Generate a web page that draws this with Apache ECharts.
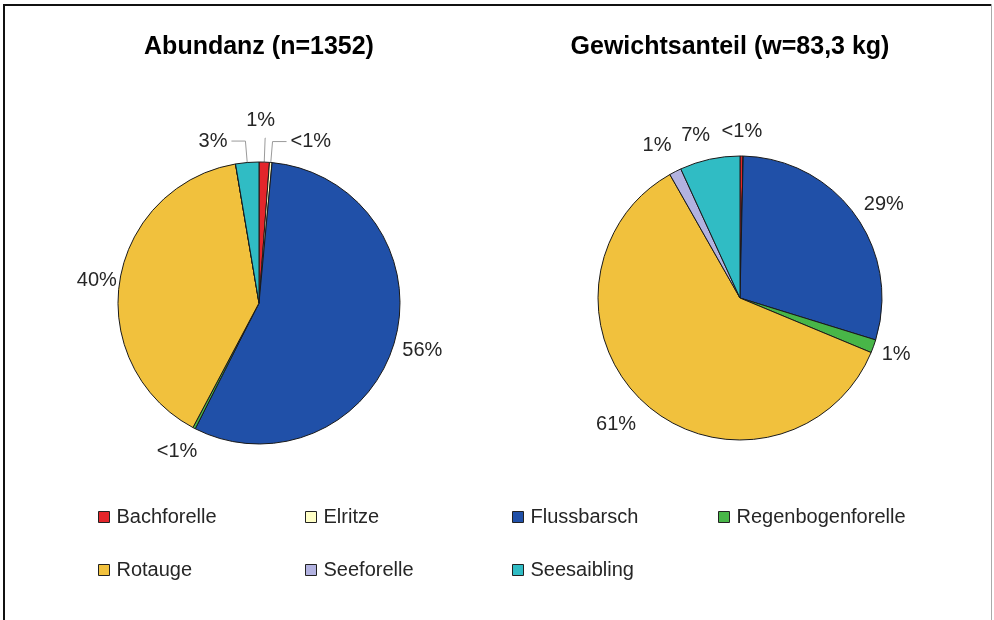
<!DOCTYPE html>
<html><head><meta charset="utf-8">
<script src="https://cdn.jsdelivr.net/npm/echarts@6/dist/echarts.min.js"></script>
<style>html,body{margin:0;padding:0;background:#fff}#c{width:994px;height:620px}</style>
</head><body><div id="c"></div>
<script>
// ---- data ----
const species = ['Bachforelle', 'Elritze', 'Flussbarsch', 'Regenbogenforelle', 'Rotauge', 'Seeforelle', 'Seesaibling'];
const abundanceCounts = [16, 4, 757, 4, 535, 0, 36];          // n = 1352
const abundanceLabels = ['1%', '<1%', '56%', '<1%', '40%', '', '3%'];
const weightKg = [0.3, 0, 24.5, 1.25, 50.4, 1.15, 5.7];        // w = 83,3 kg
const weightLabels = ['<1%', '', '29%', '1%', '61%', '1%', '7%'];
const titles = ['Abundanz (n=1352)', 'Gewichtsanteil (w=83,3 kg)'];

// ---- styles ----
const colors = ['#e3262b', '#ffffc6', '#2050a8', '#48b648', '#f1c13d', '#b2b2e0', '#30bcc4'];
const FONT = '"Liberation Sans", Arial, sans-serif';
// label placement: leader-line lengths plus small horizontal nudges (sx) realised through padding
const leftLabelStyle = [
  {len: 24, len2: 0.5, line: true, align: 'center', vAlign: 'bottom', dist: 0, pad: [0, 10, 8, 0]},
  {len: 21, len2: 14, line: true, dist: 4},
  {len: 29, align: 'center', dist: 0},
  {len: 26, align: 'center', dist: 0, sx: -5},
  {len: 0, align: 'center', dist: 0, sx: -23},
  {hide: true},
  {len: 21.5, len2: 14, line: true, dist: 4}
];
const rightLabelStyle = [
  {len: 25, align: 'center', dist: 0},
  {hide: true},
  {len: 18, align: 'center', dist: 0, sx: 14},
  {len: 24, align: 'center', dist: 0},
  {len: 27, align: 'center', dist: 0, sx: -12},
  {len: 29, align: 'center', dist: 0, sx: -5},
  {len: 24, align: 'center', dist: 0, sx: -9}
];

function padOf(s) {
  if (s.pad) return s.pad;
  const sx = s.sx || 0;
  return [0, Math.max(0, -2 * sx), 0, Math.max(0, 2 * sx)];
}

function buildData(values, labels, styles) {
  return species.map((name, i) => {
    const s = styles[i];
    return {
      name: name,
      value: values[i],
      itemStyle: {color: colors[i]},
      label: s.hide ? {show: false} : {show: true, formatter: labels[i], distanceToLabelLine: s.dist || 0, padding: padOf(s)},
      labelLine: {show: !!s.line, length: s.len || 0, length2: s.len2 || 0}
    };
  });
}

function pieSeries(center, radius, values, labels, styles) {
  return {
    type: 'pie', center: center, radius: radius, startAngle: 90, clockwise: true,
    avoidLabelOverlap: false, animation: false, silent: true,
    label: {position: 'outside', fontSize: 20, color: '#262626', fontFamily: FONT},
    labelLine: {lineStyle: {color: '#9a9a9a', width: 1}},
    itemStyle: {borderColor: '#1a1a1a', borderWidth: 1},
    emphasis: {disabled: true},
    labelLayout: function (p) {
      const s = styles[p.dataIndex];
      if (s && s.align) return {align: s.align, verticalAlign: s.vAlign || 'middle'};
      return {};
    },
    data: buildData(values, labels, styles)
  };
}

const colX = [98, 305, 512, 718];
const legends = colX.map((x, k) => ({
  data: species.filter((n, i) => i % 4 === k),
  orient: 'vertical', left: x, top: 507, padding: 0,
  itemWidth: 11, itemHeight: 11, itemGap: 33, icon: 'rect',
  selectedMode: false,
  itemStyle: {borderColor: '#222', borderWidth: 1},
  textStyle: {fontSize: 20, color: '#262626', fontFamily: FONT, lineHeight: 20, padding: [0, 0, 0, 2]}
}));

const chart = echarts.init(document.getElementById('c'), null, {renderer: 'canvas'});
chart.setOption({
  backgroundColor: '#fff',
  animation: false,
  legend: legends,
  series: [
    pieSeries([259, 303], 141, abundanceCounts, abundanceLabels, leftLabelStyle),
    pieSeries([740, 298], 142, weightKg, weightLabels, rightLabelStyle)
  ],
  graphic: [
    {type: 'text', x: 259, y: 47, style: {text: titles[0], font: 'bold 25px ' + FONT, fill: '#000', align: 'center', verticalAlign: 'middle'}},
    {type: 'text', x: 730, y: 47, style: {text: titles[1], font: 'bold 25px ' + FONT, fill: '#000', align: 'center', verticalAlign: 'middle'}},
    {type: 'line', shape: {x1: 3, y1: 5, x2: 992, y2: 5}, style: {stroke: '#111', lineWidth: 2}},
    {type: 'line', shape: {x1: 4, y1: 4, x2: 4, y2: 620}, style: {stroke: '#111', lineWidth: 2}},
    {type: 'line', shape: {x1: 991.5, y1: 4, x2: 991.5, y2: 620}, style: {stroke: '#aaa', lineWidth: 1}}
  ]
});
</script></body></html>
